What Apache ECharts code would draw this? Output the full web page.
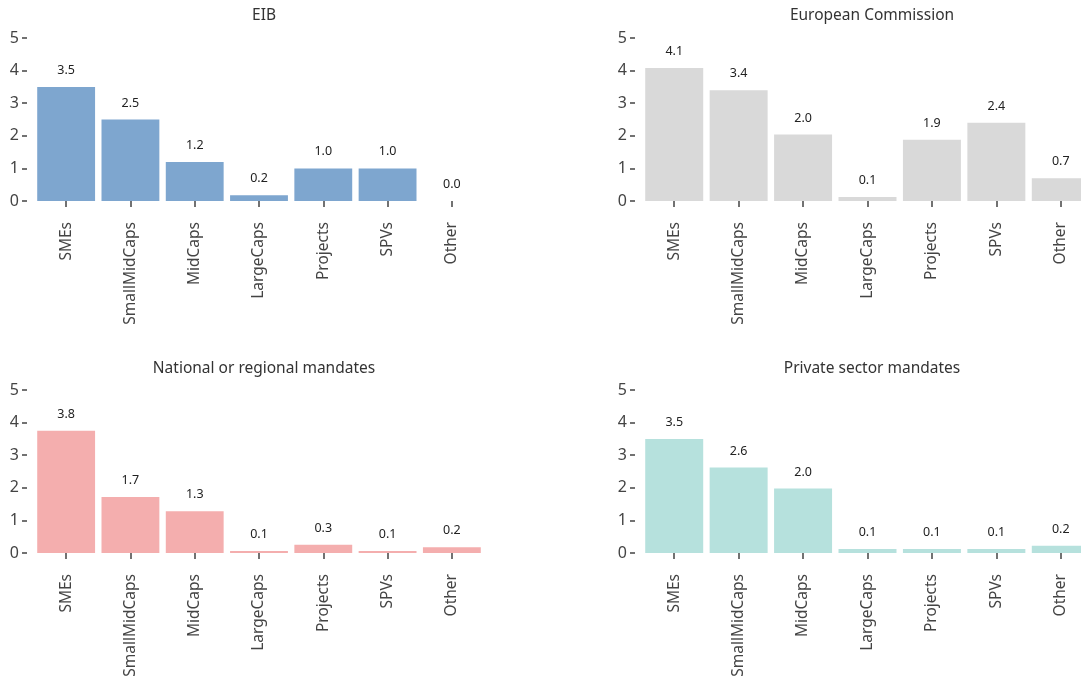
<!DOCTYPE html>
<html><head><meta charset="utf-8">
<script src="https://cdn.jsdelivr.net/npm/echarts@6/dist/echarts.min.js"></script>
<style>html,body{margin:0;padding:0;background:#fff;overflow:hidden}#c{width:1100px;height:681px}</style>
</head><body><div id="c"></div>
<script>
const categories = ["SMEs","SmallMidCaps","MidCaps","LargeCaps","Projects","SPVs","Other"];
const titles = ["EIB","European Commission","National or regional mandates","Private sector mandates"];
const eib = [3.5, 2.5, 1.2, 0.18, 1.0, 1.0, 0.0];
const commission = [4.08, 3.4, 2.04, 0.12, 1.88, 2.4, 0.7];
const national = [3.75, 1.72, 1.28, 0.06, 0.25, 0.06, 0.18];
const privateSector = [3.5, 2.62, 1.98, 0.12, 0.12, 0.12, 0.22];
const yTicks = [0,1,2,3,4,5];
const colors = ["#7ea6cf","#d9d9d9","#f4aeae","#b6e1dd"];
const seriesData = [eib, commission, national, privateSector];

const font = "Noto Sans";
const grids = [
  {left:34, top:38, width:450, height:163},
  {left:642, top:38, width:451, height:163},
  {left:34, top:390, width:450, height:163},
  {left:642, top:390, width:451, height:163}
];
const titleCenters = [259, 867, 259, 867];
const option = {
  animation:false,
  backgroundColor:"#fff",
  title: titles.map((t,i)=>({
    text:t,
    left: titleCenters[i],
    top: i<2 ? 3 : 356,
    textAlign:"center",
    textStyle:{fontFamily:font,fontSize:15.5,fontWeight:"normal",color:"#333"}
  })),
  grid: grids,
  xAxis: grids.map((g,i)=>({
    type:"category", gridIndex:i, data:categories,
    offset:9,
    axisLine:{show:false},
    axisTick:{show:true, alignWithLabel:true, length:6, lineStyle:{color:"#444", width:1.5}},
    axisLabel:{rotate:90, margin:12, fontFamily:font, fontSize:15.5, color:"#444", interval:0}
  })),
  yAxis: grids.map((g,i)=>({
    type:"value", gridIndex:i, min:yTicks[0], max:yTicks[yTicks.length-1], interval:1,
    offset:7,
    axisLine:{show:false},
    splitLine:{show:false},
    axisTick:{show:true, length:5, lineStyle:{color:"#444", width:1.5}},
    axisLabel:{margin:8, fontFamily:font, fontSize:16, color:"#444"}
  })),
  series: seriesData.map((d,i)=>({
    type:"bar", xAxisIndex:i, yAxisIndex:i, data:d,
    barCategoryGap:"10%",
    itemStyle:{color:colors[i]},
    label:{show:true, position:"top", distance:10, fontFamily:font, fontSize:12.5, color:"#222",
      formatter:p=>p.value.toFixed(1)}
  }))
};
echarts.init(document.getElementById("c")).setOption(option);
</script></body></html>
